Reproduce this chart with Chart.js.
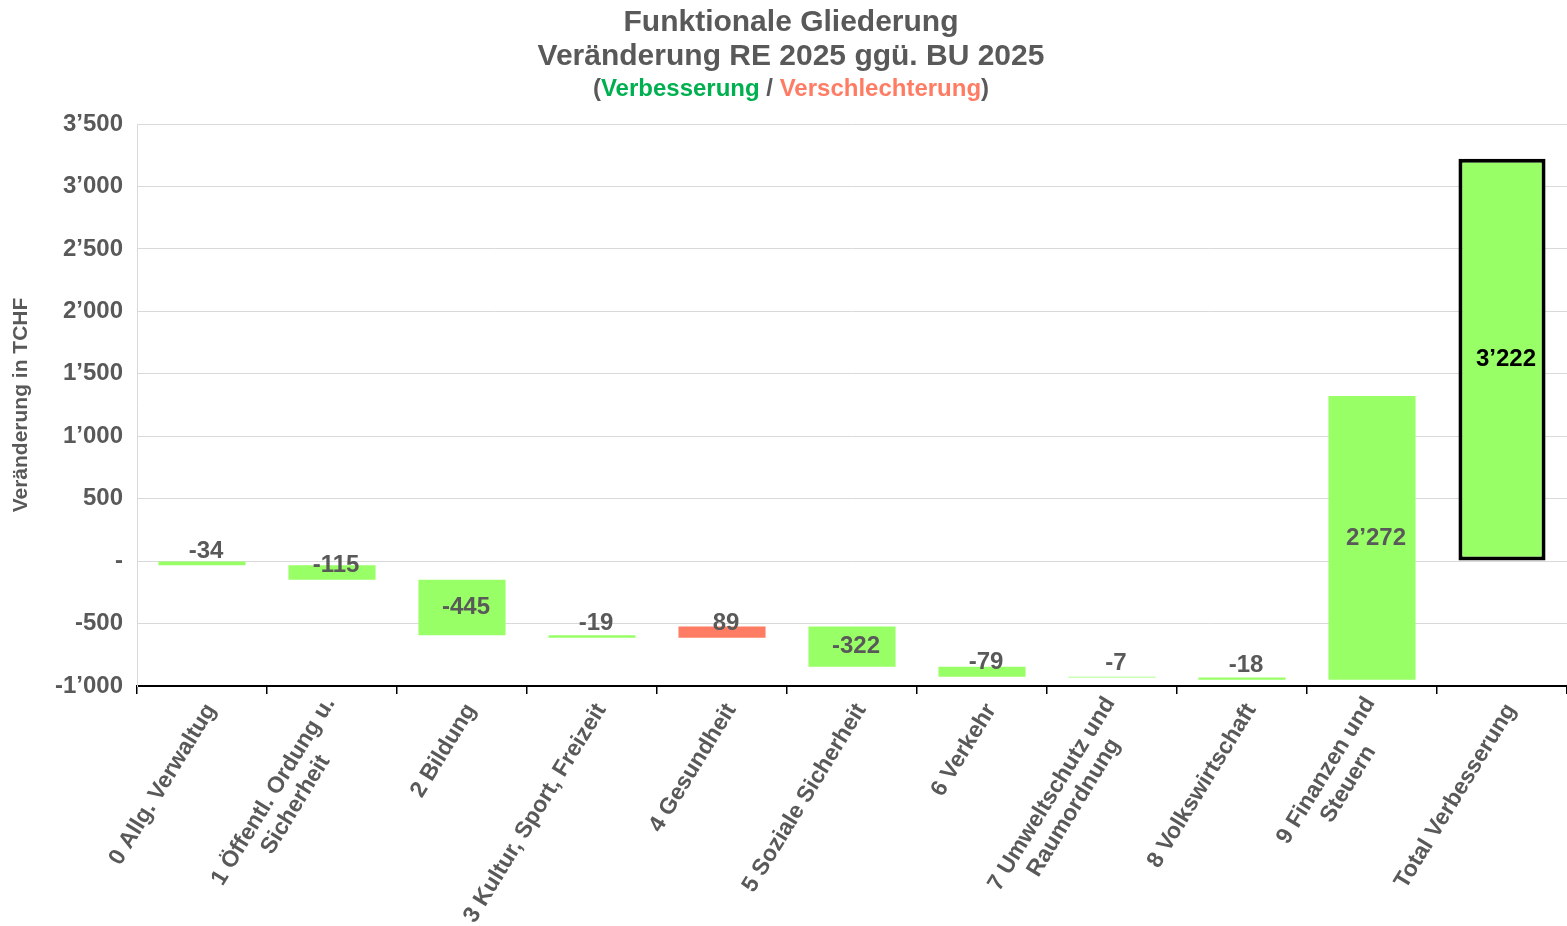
<!DOCTYPE html>
<html lang="de">
<head>
<meta charset="utf-8">
<title>Funktionale Gliederung</title>
<script src="https://cdn.jsdelivr.net/npm/chart.js@4.4.1/dist/chart.umd.min.js"></script>
<style>
    html, body { margin: 0; padding: 0; background: #ffffff; }
    #chartWrap { width: 1567px; height: 926px; position: relative; }
</style>
</head>
<body>
<div id="chartWrap"><canvas id="waterfallChart"></canvas></div>
<script>
// Kategorien der funktionalen Gliederung
const categories = [
    '0 Allg. Verwaltug',
    ['1 Öffentl. Ordung u.', 'Sicherheit'],
    '2 Bildung',
    '3 Kultur, Sport, Freizeit',
    '4 Gesundheit',
    '5 Soziale Sicherheit',
    '6 Verkehr',
    ['7 Umweltschutz und', 'Raumordnung'],
    '8 Volkswirtschaft',
    ['9 Finanzen und', 'Steuern'],
    'Total Verbesserung'
];

// Veränderung je Funktion (TCHF), Reihenfolge wie categories ohne Total
const changes = [-34, -115, -445, -19, 89, -322, -79, -7, -18, 2272];
// Art der Veränderung: 'v' = Verbesserung, 's' = Verschlechterung
const kinds = ['v', 'v', 'v', 'v', 's', 'v', 'v', 'v', 'v', 'v'];
const totalImprovement = 3222;

// Achsenbeschriftung
const yTicks = [-1000, -500, 0, 500, 1000, 1500, 2000, 2500, 3000, 3500];

const GREEN = '#99FF66';
const RED = '#FF7C64';
const GREY_TEXT = '#595959';
const FONT = "'Liberation Sans', Arial, sans-serif";
const LABEL_ANGLE = -58.5 * Math.PI / 180;

// Zahlen im Schweizer Format (3’222)
function fmt(v) {
    const s = Math.abs(v).toString().replace(/\B(?=(\d{3})+(?!\d))/g, '\u2019');
    return (v < 0 ? '-' : '') + s;
}

// Wasserfall: jede Veränderung startet beim kumulierten Stand davor
const floating = [];
let running = 0;
changes.forEach(function (c) {
    floating.push([running, running + c]);
    running += c;
});
floating.push([0, totalImprovement]);
const labelValues = changes.concat([totalImprovement]);

const barColors = kinds.map(k => (k === 's' ? RED : GREEN)).concat([GREEN]);
const borderWidths = kinds.map(() => 0).concat([4]);

// Titelblock mit farbigem Untertitel
const titlePlugin = {
    id: 'titleBlock',
    afterDraw(chart) {
        const ctx = chart.ctx;
        const cx = 791;
        ctx.save();
        ctx.textBaseline = 'middle';
        ctx.textAlign = 'center';
        ctx.fillStyle = GREY_TEXT;
        ctx.font = 'bold 30px ' + FONT;
        ctx.fillText('Funktionale Gliederung', cx, 23);
        ctx.fillText('Veränderung RE 2025 ggü. BU 2025', cx, 57);

        const parts = [
            ['(', GREY_TEXT],
            ['Verbesserung', '#00B050'],
            [' / ', GREY_TEXT],
            ['Verschlechterung', RED],
            [')', GREY_TEXT]
        ];
        ctx.font = 'bold 24px ' + FONT;
        const total = parts.reduce((w, p) => w + ctx.measureText(p[0]).width, 0);
        let x = cx - total / 2;
        ctx.textAlign = 'left';
        parts.forEach(function (p) {
            ctx.fillStyle = p[1];
            ctx.fillText(p[0], x, 89);
            x += ctx.measureText(p[0]).width;
        });
        ctx.restore();
    }
};

// Schräge Kategorienbeschriftung, mehrzeilige Texte zentriert zueinander
const categoryLabelPlugin = {
    id: 'categoryLabels',
    afterDraw(chart) {
        const ctx = chart.ctx;
        const xScale = chart.scales.x;
        const lineHeight = 26;
        ctx.save();
        ctx.font = 'bold 23px ' + FONT;
        ctx.fillStyle = GREY_TEXT;
        ctx.textBaseline = 'middle';
        ctx.textAlign = 'center';
        categories.forEach(function (label, i) {
            const lines = Array.isArray(label) ? label : [label];
            const w = Math.max.apply(null, lines.map(l => ctx.measureText(l).width));
            ctx.save();
            ctx.translate(xScale.getPixelForTick(i) + 9, xScale.top + 20);
            ctx.rotate(LABEL_ANGLE);
            lines.forEach(function (line, j) {
                const dy = (j - (lines.length - 1) / 2) * lineHeight;
                ctx.fillText(line, -w / 2, dy);
            });
            ctx.restore();
        });
        ctx.restore();
    }
};

// Wertebeschriftung: mittig im Balken, bei schmalen Balken über dem Endpunkt
const valueLabelPlugin = {
    id: 'valueLabels',
    afterDatasetsDraw(chart) {
        const ctx = chart.ctx;
        const meta = chart.getDatasetMeta(0);
        ctx.save();
        ctx.textAlign = 'center';
        ctx.textBaseline = 'middle';
        meta.data.forEach(function (bar, i) {
            const isTotal = i === labelValues.length - 1;
            const h = Math.abs(bar.base - bar.y);
            let y = (bar.base + bar.y) / 2;
            if (h < 25) {
                y = bar.y - 14;
            }
            ctx.font = 'bold 24px ' + FONT;
            ctx.fillStyle = isTotal ? '#000000' : GREY_TEXT;
            ctx.fillText(fmt(labelValues[i]), bar.x + 4, y);
        });
        ctx.restore();
    }
};

const ctx = document.getElementById('waterfallChart').getContext('2d');
new Chart(ctx, {
    type: 'bar',
    data: {
        labels: categories,
        datasets: [{
            label: 'Veränderung',
            data: floating,
            backgroundColor: barColors,
            borderColor: '#000000',
            borderWidth: borderWidths,
            borderSkipped: false,
            barPercentage: 0.67,
            categoryPercentage: 1.0
        }]
    },
    options: {
        responsive: true,
        maintainAspectRatio: false,
        animation: false,
        layout: {
            padding: { top: 124, right: -4, left: 0, bottom: 0 }
        },
        plugins: {
            legend: { display: false },
            tooltip: { enabled: false },
            title: { display: false }
        },
        scales: {
            x: {
                afterFit(scale) { scale.height = 240; },
                grid: {
                    offset: true,
                    drawOnChartArea: false,
                    drawTicks: true,
                    tickLength: 8,
                    color: '#000000',
                    lineWidth: 1.5
                },
                border: { color: '#000000', width: 2 },
                ticks: {
                    autoSkip: false,
                    minRotation: 58,
                    maxRotation: 58,
                    color: 'rgba(0,0,0,0)',
                    font: { family: FONT, size: 23, weight: 'bold' }
                }
            },
            y: {
                min: yTicks[0],
                max: yTicks[yTicks.length - 1],
                afterFit(scale) { scale.width = 137; },
                afterBuildTicks(scale) {
                    scale.ticks = yTicks.map(v => ({ value: v }));
                },
                grid: {
                    color: '#D9D9D9',
                    lineWidth: 1,
                    drawTicks: false
                },
                border: { color: '#D9D9D9', width: 1 },
                ticks: {
                    padding: 14,
                    color: GREY_TEXT,
                    font: { family: FONT, size: 24, weight: 'bold' },
                    callback: v => (v === 0 ? '-' : fmt(v))
                },
                title: {
                    display: true,
                    text: 'Veränderung in TCHF',
                    color: GREY_TEXT,
                    font: { family: FONT, size: 21, weight: 'bold' },
                    padding: { top: 9, bottom: 0 }
                }
            }
        }
    },
    plugins: [titlePlugin, valueLabelPlugin, categoryLabelPlugin]
});
</script>
</body>
</html>
